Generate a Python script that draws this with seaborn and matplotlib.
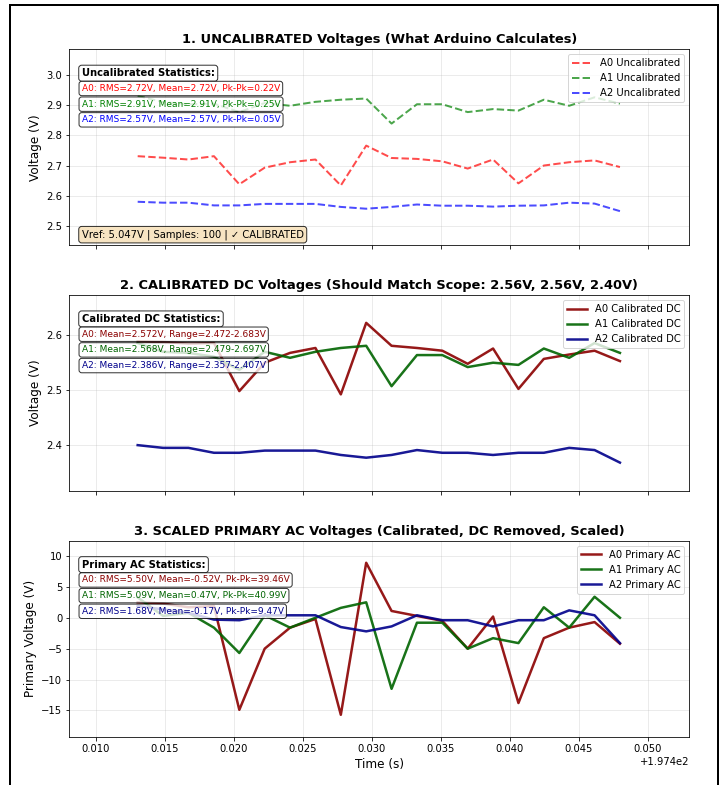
import matplotlib
matplotlib.use("Agg")
import matplotlib.pyplot as plt
import seaborn as sns
from matplotlib.patches import Rectangle
from matplotlib.ticker import MultipleLocator

time_s = [197.41302, 197.41486, 197.41670, 197.41855, 197.42039, 197.42223, 197.42407,
          197.42591, 197.42775, 197.42959, 197.43143, 197.43327, 197.43511, 197.43695,
          197.43879, 197.44063, 197.44247, 197.44431, 197.44615, 197.44799]

a0_uncal = [2.731, 2.726, 2.720, 2.731, 2.638, 2.693, 2.711, 2.720, 2.634, 2.766,
            2.725, 2.722, 2.714, 2.690, 2.720, 2.641, 2.700, 2.711, 2.717, 2.695]
a1_uncal = [2.931, 2.910, 2.903, 2.905, 2.877, 2.907, 2.898, 2.911, 2.918, 2.922,
            2.839, 2.903, 2.903, 2.877, 2.887, 2.882, 2.918, 2.898, 2.926, 2.905]
a2_uncal = [2.580, 2.577, 2.577, 2.568, 2.568, 2.573, 2.573, 2.573, 2.563, 2.557,
            2.563, 2.571, 2.567, 2.567, 2.564, 2.567, 2.568, 2.577, 2.574, 2.549]

a0_dc = [2.589, 2.588, 2.585, 2.586, 2.498, 2.550, 2.568, 2.577, 2.492, 2.623,
         2.581, 2.577, 2.572, 2.548, 2.576, 2.502, 2.557, 2.565, 2.572, 2.553]
a1_dc = [2.586, 2.570, 2.568, 2.561, 2.537, 2.570, 2.559, 2.570, 2.577, 2.581,
         2.507, 2.564, 2.564, 2.542, 2.550, 2.546, 2.576, 2.559, 2.586, 2.568]
a2_dc = [2.399, 2.394, 2.394, 2.385, 2.385, 2.389, 2.389, 2.389, 2.381, 2.376,
         2.381, 2.390, 2.385, 2.385, 2.381, 2.385, 2.385, 2.394, 2.390, 2.367]

a0_ac = [2.5, 2.3, 1.7, 1.9, -14.9, -5.0, -1.6, -0.2, -15.7, 8.9,
         1.1, 0.3, -0.5, -5.0, 0.2, -13.8, -3.3, -1.6, -0.7, -4.2]
a1_ac = [3.3, 0.3, 0.8, -1.6, -5.7, 0.4, -1.6, 0.0, 1.6, 2.5,
         -11.5, -0.8, -0.8, -5.0, -3.3, -4.1, 1.7, -1.6, 3.4, 0.0]
a2_ac = [1.9, 1.35, 0.8, -0.3, -0.4, 0.4, 0.4, 0.4, -1.5, -2.2,
         -1.4, 0.4, -0.4, -0.4, -1.4, -0.4, -0.4, 1.2, 0.4, -4.1]

uncal_stats = ["A0: RMS=2.72V, Mean=2.72V, Pk-Pk=0.22V",
               "A1: RMS=2.91V, Mean=2.91V, Pk-Pk=0.25V",
               "A2: RMS=2.57V, Mean=2.57V, Pk-Pk=0.05V"]
dc_stats = ["A0: Mean=2.572V, Range=2.472-2.683V",
            "A1: Mean=2.568V, Range=2.479-2.697V",
            "A2: Mean=2.386V, Range=2.357-2.407V"]
ac_stats = ["A0: RMS=5.50V, Mean=-0.52V, Pk-Pk=39.46V",
            "A1: RMS=5.09V, Mean=0.47V, Pk-Pk=40.99V",
            "A2: RMS=1.68V, Mean=-0.17V, Pk-Pk=9.47V"]


def stats_box(ax, header, lines, colors):
    ax.text(0.02, 0.878, header, transform=ax.transAxes, fontsize=10, fontweight='bold',
            va='center', bbox=dict(boxstyle='round', facecolor='white', alpha=0.8))
    for i, (line, c) in enumerate(zip(lines, colors)):
        ax.text(0.02, 0.80 - i * 0.08, line, transform=ax.transAxes, fontsize=9, color=c,
                va='center', bbox=dict(boxstyle='round', facecolor='white', alpha=0.8))


fig, (ax1, ax2, ax3) = plt.subplots(3, 1, sharex=True, figsize=(723 / 72, 785 / 72), dpi=72)
fig.subplots_adjust(left=0.0959, right=0.9534, top=0.9372, bottom=0.0615, hspace=0.254)

# panel 1
sns.lineplot(x=time_s, y=a0_uncal, ax=ax1, color='red', linestyle='--', linewidth=2, alpha=0.7, label='A0 Uncalibrated')
sns.lineplot(x=time_s, y=a1_uncal, ax=ax1, color='green', linestyle='--', linewidth=2, alpha=0.7, label='A1 Uncalibrated')
sns.lineplot(x=time_s, y=a2_uncal, ax=ax1, color='blue', linestyle='--', linewidth=2, alpha=0.7, label='A2 Uncalibrated')
ax1.set_title('1. UNCALIBRATED Voltages (What Arduino Calculates)', fontsize=13, fontweight='bold')
ax1.set_ylabel('Voltage (V)', fontsize=12)
ax1.set_ylim(2.436, 3.085)
ax1.legend(loc='upper right', fontsize=10)
ax1.grid(True, alpha=0.3)
stats_box(ax1, 'Uncalibrated Statistics:', uncal_stats, ['red', 'green', 'blue'])
ax1.text(0.02, 0.054, 'Vref: 5.047V | Samples: 100 | \u2713 CALIBRATED', transform=ax1.transAxes,
         fontsize=10, va='center', bbox=dict(boxstyle='round', facecolor='wheat', alpha=0.8))

# panel 2
sns.lineplot(x=time_s, y=a0_dc, ax=ax2, color='darkred', linewidth=2.5, alpha=0.9, label='A0 Calibrated DC')
sns.lineplot(x=time_s, y=a1_dc, ax=ax2, color='darkgreen', linewidth=2.5, alpha=0.9, label='A1 Calibrated DC')
sns.lineplot(x=time_s, y=a2_dc, ax=ax2, color='darkblue', linewidth=2.5, alpha=0.9, label='A2 Calibrated DC')
ax2.set_title('2. CALIBRATED DC Voltages (Should Match Scope: 2.56V, 2.56V, 2.40V)', fontsize=13, fontweight='bold')
ax2.set_ylabel('Voltage (V)', fontsize=12)
ax2.set_ylim(2.315, 2.674)
ax2.yaxis.set_major_locator(MultipleLocator(0.1))
ax2.legend(loc='upper right', fontsize=10)
ax2.grid(True, alpha=0.3)
stats_box(ax2, 'Calibrated DC Statistics:', dc_stats, ['darkred', 'darkgreen', 'darkblue'])

# panel 3
sns.lineplot(x=time_s, y=a0_ac, ax=ax3, color='darkred', linewidth=2.5, alpha=0.9, label='A0 Primary AC')
sns.lineplot(x=time_s, y=a1_ac, ax=ax3, color='darkgreen', linewidth=2.5, alpha=0.9, label='A1 Primary AC')
sns.lineplot(x=time_s, y=a2_ac, ax=ax3, color='darkblue', linewidth=2.5, alpha=0.9, label='A2 Primary AC')
ax3.set_title('3. SCALED PRIMARY AC Voltages (Calibrated, DC Removed, Scaled)', fontsize=13, fontweight='bold')
ax3.set_ylabel('Primary Voltage (V)', fontsize=12)
ax3.set_xlabel('Time (s)', fontsize=12)
ax3.set_ylim(-19.25, 12.46)
ax3.legend(loc='upper right', fontsize=10)
ax3.grid(True, alpha=0.3)
stats_box(ax3, 'Primary AC Statistics:', ac_stats, ['darkred', 'darkgreen', 'darkblue'])

ax3.set_xlim(197.408064, 197.45302)

fig.patches.append(Rectangle((10 / 723, -0.05), 708 / 723, 1.05 - 5 / 785, transform=fig.transFigure,
                             fill=False, edgecolor='black', linewidth=2))

fig.savefig('out.png', dpi=72)
